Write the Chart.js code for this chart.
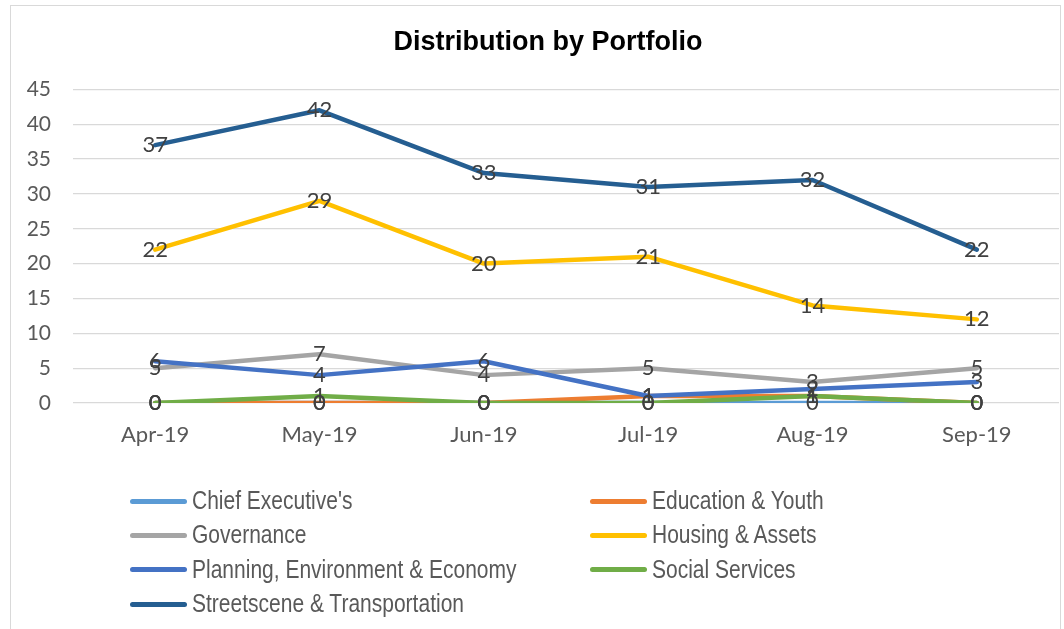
<!DOCTYPE html>
<html>
<head>
<meta charset="utf-8">
<script src="https://cdn.jsdelivr.net/npm/chart.js@4.4.0/dist/chart.umd.min.js"></script>
<style>
  html, body { margin: 0; padding: 0; background: #fff; }
  #wrap { position: relative; width: 1064px; height: 629px; overflow: hidden; }
  #frame { position: absolute; left: 10px; top: 5px; width: 1051px; height: 640px; border: 1px solid #d9d9d9; box-sizing: border-box; }
  canvas { position: absolute; left: 0; top: 0; }
  #legend { position: absolute; left: 130px; top: 484px; display: grid; grid-template-columns: 460px 400px; grid-auto-rows: 34.3px; font-family: "Liberation Sans", Arial, sans-serif; font-size: 21px; color: #595959; }
  .item { display: flex; align-items: center; white-space: nowrap; }
  .swatch { width: 57px; height: 5px; border-radius: 3px; margin-right: 5px; }
  .txt { display: inline-block; transform: scaleY(1.2); transform-origin: center; }
</style>
</head>
<body>
<div id="wrap">
  <div id="frame"></div>
  <canvas id="c" width="1064" height="629"></canvas>
  <div id="legend"></div>
</div>
<script>
const categories = ["Apr-19", "May-19", "Jun-19", "Jul-19", "Aug-19", "Sep-19"];
const chiefExecutive = [0, 0, 0, 0, 0, 0];
const educationYouth = [0, 0, 0, 1, 1, 0];
const governance = [5, 7, 4, 5, 3, 5];
const housingAssets = [22, 29, 20, 21, 14, 12];
const planningEnvEconomy = [6, 4, 6, 1, 2, 3];
const socialServices = [0, 1, 0, 0, 1, 0];
const streetscene = [37, 42, 33, 31, 32, 22];
const yTicks = [0, 5, 10, 15, 20, 25, 30, 35, 40, 45];

const seriesNames = ["Chief Executive's", "Education & Youth", "Governance", "Housing & Assets",
  "Planning, Environment & Economy", "Social Services", "Streetscene & Transportation"];
const seriesData = [chiefExecutive, educationYouth, governance, housingAssets, planningEnvEconomy, socialServices, streetscene];
const seriesColors = ["#5B9BD5", "#ED7D31", "#A5A5A5", "#FFC000", "#4472C4", "#70AD47", "#255E91"];

const datasets = seriesNames.map((n, i) => ({
  label: n,
  data: seriesData[i],
  borderColor: seriesColors[i],
  backgroundColor: seriesColors[i],
  borderWidth: 4.5,
  pointRadius: 0,
  pointHoverRadius: 0,
  tension: 0,
  borderCapStyle: 'round',
  borderJoinStyle: 'round',
  order: seriesNames.length - i
}));

const labelPlugin = {
  id: 'valueLabels',
  afterLayout(chart) {
    if (chart.titleBlock) { chart.titleBlock.left = 37; }
  },
  afterDatasetsDraw(chart) {
    const ctx = chart.ctx;
    ctx.save();
    ctx.font = '22px Lato, "Open Sans", sans-serif';
    ctx.fillStyle = '#404040';
    ctx.textAlign = 'center';
    ctx.textBaseline = 'middle';
    chart.data.datasets.forEach((ds, i) => {
      const meta = chart.getDatasetMeta(i);
      meta.data.forEach((el, j) => {
        ctx.fillText(String(ds.data[j]), el.x, el.y);
      });
    });
    ctx.restore();
  }
};

new Chart(document.getElementById('c'), {
  type: 'line',
  data: { labels: categories, datasets },
  options: {
    responsive: false,
    animation: false,
    layout: { padding: { left: 0, right: 5, top: 0, bottom: 0 } },
    plugins: {
      legend: { display: false },
      tooltip: { enabled: false },
      title: {
        display: true,
        text: 'Distribution by Portfolio',
        color: '#000',
        font: { family: '"Liberation Sans", Arial, sans-serif', size: 27, weight: 'bold' },
        padding: { top: 26, bottom: 31 }
      }
    },
    scales: {
      x: {
        offset: true,
        grid: { display: false },
        border: { display: false },
        ticks: { color: '#595959', font: { family: 'Lato, "Open Sans", sans-serif', size: 22 }, padding: 11, maxRotation: 0 },
        afterFit(scale) { scale.height = 226; }
      },
      y: {
        min: 0, max: 45,
        afterBuildTicks(scale) { scale.ticks = yTicks.map(v => ({ value: v })); },
        grid: { color: '#D9D9D9', lineWidth: 1.3, drawTicks: false },
        border: { display: false },
        ticks: { color: '#595959', font: { family: 'Lato, "Open Sans", sans-serif', size: 21 }, padding: 22 },
        afterFit(scale) { scale.width = 73; }
      }
    }
  },
  plugins: [labelPlugin]
});

const legend = document.getElementById('legend');
seriesNames.forEach((n, i) => {
  const d = document.createElement('div');
  d.className = 'item';
  const s = document.createElement('span');
  s.className = 'swatch';
  s.style.background = seriesColors[i];
  const t = document.createElement('span');
  t.className = 'txt';
  t.textContent = n;
  d.appendChild(s); d.appendChild(t);
  legend.appendChild(d);
});
</script>
</body>
</html>
